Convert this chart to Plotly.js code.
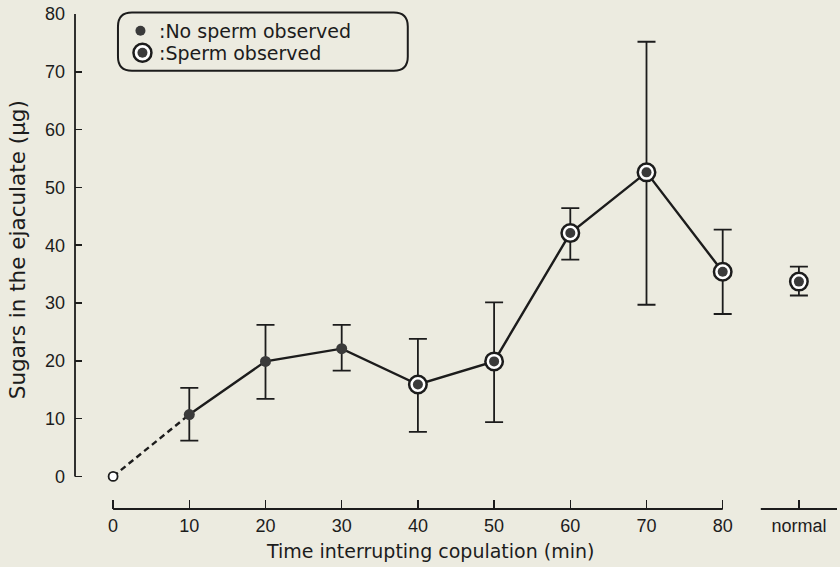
<!DOCTYPE html>
<html>
<head>
<meta charset="utf-8">
<script src="https://cdn.plot.ly/plotly-3.0.1.min.js"></script>
<style>html,body{margin:0;padding:0;background:#ecebe0}</style>
</head>
<body>
<div id="chart" style="width:840px;height:567px"></div>
<script>
// ---- data ----
const times = [0, 10, 20, 30, 40, 50, 60, 70, 80];
const sugars = [0, 10.7, 19.9, 22.1, 15.9, 19.9, 42.1, 52.6, 35.4];
const errUp = [0, 4.6, 6.3, 4.1, 7.9, 10.2, 4.3, 22.6, 7.3];
const errDown = [0, 4.5, 6.5, 3.8, 8.2, 10.5, 4.6, 22.9, 7.3];
const spermObserved = [null, false, false, false, true, true, true, true, true];
const normalX = 90;
const normalSugar = 33.7;
const normalUp = 2.6;
const normalDown = 2.4;
const xTickVals = [0, 10, 20, 30, 40, 50, 60, 70, 80, 90];
const xTickText = ['0', '10', '20', '30', '40', '50', '60', '70', '80', 'normal'];
const yTickVals = [0, 10, 20, 30, 40, 50, 60, 70, 80];
const legendLabels = [':No sperm observed', ':Sperm observed'];
const xTitle = 'Time interrupting copulation (min)';
const yTitle = 'Sugars in the ejaculate (µg)';

// ---- styling ----
const INK = '#1c1c1c';
const DOT = '#3a3a3a';
const BG = '#ecebe0';
const FONT = 'DejaVu Sans, Liberation Sans, Arial, sans-serif';
const TICKFONT = 'Liberation Sans, Arial, Helvetica, sans-serif';

// plot area in pixels (for layout helpers)
const L = 75, R = 2.5, T = 14.3, B = 57.7;
const W = 840 - L - R, H = 567 - T - B;
const px2x = p => (p - L) / W;
const py2y = p => (T + H - p) / H;

// measured points (t > 0)
const mt = times.slice(1), ms = sugars.slice(1);
const errX = mt.concat([normalX]);
const errY = ms.concat([normalSugar]);
const errU = errUp.slice(1).concat([normalUp]);
const errD = errDown.slice(1).concat([normalDown]);

const noX = [], noY = [], yesX = [], yesY = [];
times.forEach((t, i) => {
  if (spermObserved[i] === false) { noX.push(t); noY.push(sugars[i]); }
  if (spermObserved[i] === true) { yesX.push(t); yesY.push(sugars[i]); }
});
yesX.push(normalX); yesY.push(normalSugar);

const traces = [
  { // error bars
    x: errX, y: errY, mode: 'markers', type: 'scatter',
    marker: { size: 2, opacity: 0 },
    error_y: { type: 'data', symmetric: false, array: errU, arrayminus: errD,
      color: INK, thickness: 1.8, width: 9 },
    hoverinfo: 'skip', showlegend: false
  },
  { // dashed extrapolation 0 -> 10
    x: times.slice(0, 2), y: sugars.slice(0, 2), mode: 'lines', type: 'scatter',
    line: { color: INK, width: 2.4, dash: '6px,4px' }, showlegend: false
  },
  { // solid line 10 -> 80
    x: mt, y: ms, mode: 'lines', type: 'scatter',
    line: { color: INK, width: 2.4 }, showlegend: false
  },
  { // open circle at origin
    x: [times[0]], y: [sugars[0]], mode: 'markers', type: 'scatter',
    marker: { size: 9, color: 'white', line: { color: INK, width: 1.8 } }, showlegend: false
  },
  { // no sperm observed
    x: noX, y: noY, mode: 'markers', type: 'scatter',
    marker: { size: 11, color: DOT, line: { width: 0 } }, showlegend: false
  },
  { // sperm observed: outer ring
    x: yesX, y: yesY, mode: 'markers', type: 'scatter',
    marker: { size: 17.5, color: 'white', line: { color: INK, width: 2.5 } }, showlegend: false
  },
  { // sperm observed: inner dot
    x: yesX, y: yesY, mode: 'markers', type: 'scatter',
    marker: { size: 10, color: DOT, line: { width: 0 } }, showlegend: false
  }
];

// legend box (rounded)
const bx0 = px2x(118), bx1 = px2x(408), by1 = py2y(12.7), by0 = py2y(71);
const rx = 14 / W, ry = 14 / H;
const boxPath = `M ${bx0+rx},${by1} L ${bx1-rx},${by1} Q ${bx1},${by1} ${bx1},${by1-ry} ` +
  `L ${bx1},${by0+ry} Q ${bx1},${by0} ${bx1-rx},${by0} L ${bx0+rx},${by0} ` +
  `Q ${bx0},${by0} ${bx0},${by0+ry} L ${bx0},${by1-ry} Q ${bx0},${by1} ${bx0+rx},${by1} Z`;

function circ(cx, cy, r, fill, lw) {
  return { type: 'circle', xref: 'paper', yref: 'paper',
    x0: px2x(cx - r), x1: px2x(cx + r), y0: py2y(cy + r), y1: py2y(cy - r),
    fillcolor: fill, line: { color: INK, width: lw } };
}

const shapes = [
  { type: 'line', xref: 'x', yref: 'paper', x0: 0, x1: 80, y0: 0, y1: 0, line: { color: INK, width: 1.8 } },
  { type: 'line', xref: 'x', yref: 'paper', x0: 85, x1: 95, y0: 0, y1: 0, line: { color: INK, width: 1.8 } },
  { type: 'line', xref: 'paper', yref: 'y', x0: 0, x1: 0, y0: 0, y1: 80, line: { color: INK, width: 1.8 } },
  { type: 'path', xref: 'paper', yref: 'paper', path: boxPath, line: { color: INK, width: 2 } },
  circ(140.5, 31, 5, DOT, 0),
  circ(142.5, 53, 9, 'white', 2.5),
  circ(142.5, 53, 5, DOT, 0)
];

const annotations = [
  { xref: 'paper', yref: 'paper', x: px2x(157), y: py2y(31), xanchor: 'left', yanchor: 'middle',
    text: legendLabels[0], showarrow: false, font: { family: FONT, size: 19, color: INK } },
  { xref: 'paper', yref: 'paper', x: px2x(157), y: py2y(53), xanchor: 'left', yanchor: 'middle',
    text: legendLabels[1], showarrow: false, font: { family: FONT, size: 19, color: INK } },
  { xref: 'paper', yref: 'paper', x: px2x(430), y: py2y(551), xanchor: 'center', yanchor: 'middle',
    text: xTitle, showarrow: false, font: { family: FONT, size: 19, color: INK } },
  { xref: 'paper', yref: 'paper', x: px2x(17.5), y: py2y(250), xanchor: 'center', yanchor: 'middle',
    text: yTitle, textangle: -90, showarrow: false, font: { family: FONT, size: 21.5, color: INK } }
];

const layout = {
  width: 840, height: 567,
  margin: { l: L, r: R, t: T, b: B },
  paper_bgcolor: BG, plot_bgcolor: BG,
  showlegend: false,
  xaxis: {
    range: [-5, 95], tickvals: xTickVals, ticktext: xTickText,
    ticks: 'inside', ticklen: 9, tickwidth: 1.5, tickcolor: INK,
    showline: false, showgrid: false, zeroline: false,
    tickfont: { family: TICKFONT, size: 18, color: INK }, ticklabelstandoff: 4
  },
  yaxis: {
    range: [-5.64, 80], tickvals: yTickVals,
    ticks: 'inside', ticklen: 7, tickwidth: 1.5, tickcolor: INK,
    showline: false, showgrid: false, zeroline: false,
    tickfont: { family: TICKFONT, size: 18, color: INK }, ticklabelstandoff: 9
  },
  shapes: shapes,
  annotations: annotations
};

Plotly.newPlot('chart', traces, layout, { displayModeBar: false, staticPlot: true });
</script>
</body>
</html>
